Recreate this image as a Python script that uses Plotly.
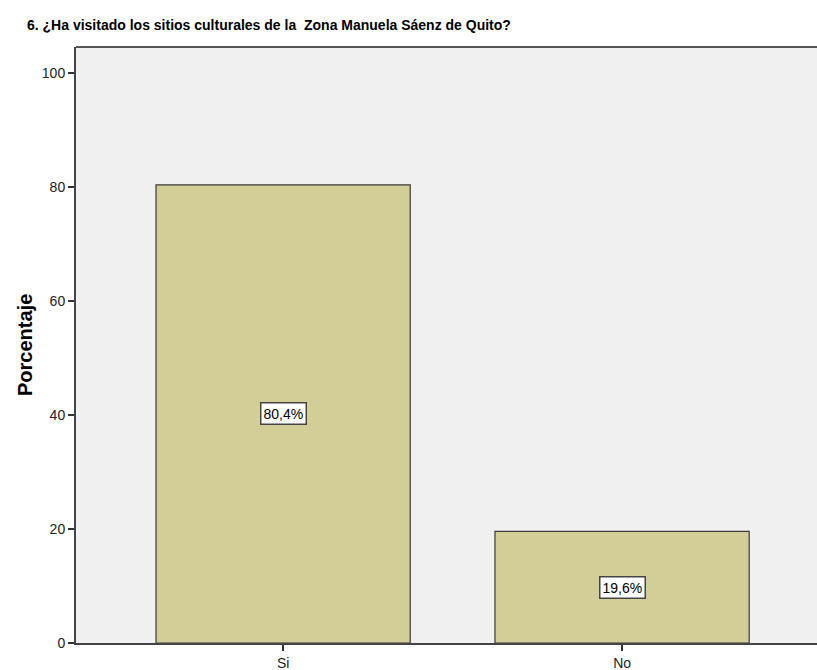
import plotly.graph_objects as go

categories = ["Si", "No"]
percentages = [80.4, 19.6]
labels = ["80,4%", "19,6%"]
y_ticks = [0, 20, 40, 60, 80, 100]

fig = go.Figure()
fig.add_trace(go.Bar(
    x=categories, y=percentages, width=0.75,
    marker=dict(color="#d3cd97", line=dict(color="#3a3a3a", width=1.2)),
    hoverinfo="skip",
))

for c, v, t in zip(categories, percentages, labels):
    fig.add_annotation(x=c, y=v / 2, text=t, showarrow=False,
                       font=dict(family="Liberation Sans", size=14, color="#000"),
                       bgcolor="white", bordercolor="#444", borderwidth=1.5, borderpad=2)

W, H = 817, 670
L, T, B = 76, 47, 27
plot_w = W - L

fig.add_annotation(text="<b>Porcentaje</b>", textangle=-90, showarrow=False,
                   xref="paper", yref="paper", x=(25 - L) / plot_w, y=0.5,
                   xanchor="center", yanchor="middle",
                   font=dict(family="Liberation Sans", size=20, color="#000"))

# top frame line of the plot area
fig.add_shape(type="line", xref="paper", yref="paper", x0=0, x1=1, y0=1, y1=1,
              line=dict(color="#555", width=2))

fig.update_layout(
    width=W, height=H,
    margin=dict(l=L, r=0, t=T, b=B, autoexpand=False),
    paper_bgcolor="white", plot_bgcolor="#f0f0f0",
    showlegend=False,
    title=dict(text="<b>6. ¿Ha visitado los sitios culturales de la  Zona Manuela Sáenz de Quito?</b>",
               x=27 / W, xanchor="left", xref="container",
               y=1 - 25 / H, yanchor="middle", yref="container",
               font=dict(family="Liberation Sans", size=14, color="#000")),
    font=dict(family="Liberation Sans", size=14, color="#222"),
)
fig.update_xaxes(range=[-0.611, 1.575], showline=True, linecolor="#444", linewidth=2,
                 ticks="outside", ticklen=6, tickwidth=1.5, tickcolor="#333",
                 showgrid=False, tickfont=dict(size=14), automargin=False)
fig.update_yaxes(range=[0, 104.6], tickvals=y_ticks, showline=True, linecolor="#444", linewidth=2,
                 ticks="outside", ticklen=6, tickwidth=1.5, tickcolor="#333", showgrid=False,
                 zeroline=False, automargin=False, tickfont=dict(size=14))

fig.write_html(
    "out.html",
    config={"displayModeBar": False},
    post_script="document.body.style.margin='0';"
                "document.body.style.overflow='hidden';"
                "document.documentElement.style.overflow='hidden';",
)
